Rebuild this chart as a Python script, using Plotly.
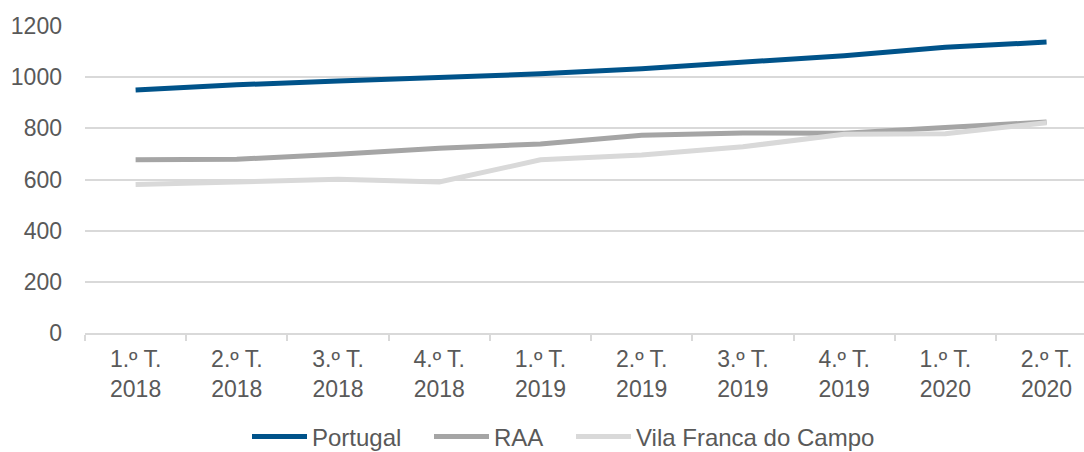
import plotly.graph_objects as go

# Quarterly series, 1.º T. 2018 through 2.º T. 2020
quarters = ["1.º T.<br>2018", "2.º T.<br>2018", "3.º T.<br>2018", "4.º T.<br>2018",
            "1.º T.<br>2019", "2.º T.<br>2019", "3.º T.<br>2019", "4.º T.<br>2019",
            "1.º T.<br>2020", "2.º T.<br>2020"]
portugal = [950, 970, 985, 998, 1013, 1033, 1057, 1084, 1117, 1137]
raa = [677, 679, 699, 722, 739, 773, 782, 781, 803, 825]
vila_franca = [580, 590, 601, 590, 677, 696, 728, 777, 779, 822]

series = [
    ("Portugal", portugal, "#00538A", "legend", 247),
    ("RAA", raa, "#A5A5A5", "legend2", 429),
    ("Vila Franca do Campo", vila_franca, "#D9D9D9", "legend3", 571),
]

font = dict(family="Liberation Sans, Arial, sans-serif", size=23, color="#595959")
legend_font = dict(font, size=24)

fig = go.Figure()
legends = {}
for name, vals, color, leg, left in series:
    fig.add_trace(go.Scatter(
        x=quarters, y=vals, name=name, mode="lines",
        line=dict(color=color, width=5), legend=leg,
    ))
    # one single-entry legend per series, placed along the bottom edge
    legends[leg] = dict(
        orientation="h", xref="container", yref="paper",
        x=left / 1084, xanchor="left", y=-0.412, yanchor="bottom",
        itemwidth=55, font=legend_font, itemclick=False, bgcolor="rgba(0,0,0,0)",
    )

fig.update_layout(
    width=1084, height=452,
    margin=dict(l=85, r=0, t=26, b=119, autoexpand=False),
    paper_bgcolor="white", plot_bgcolor="white",
    font=font,
    showlegend=True,
    **legends,
    xaxis=dict(
        type="category", range=[-0.5, 9.37],
        showgrid=False, showline=True, linecolor="#D9D9D9", linewidth=1.5,
        ticks="outside", ticklen=6, tickcolor="#D9D9D9", tickwidth=1.5,
        tickson="boundaries", zeroline=False, ticklabelstandoff=5,
    ),
    yaxis=dict(
        range=[0, 1200], dtick=200, tick0=0,
        showgrid=True, gridcolor="#D9D9D9", gridwidth=1.5,
        zeroline=False, showline=False, ticks="",
        ticklabelstandoff=22,
    ),
)

fig.write_html("out.html")
